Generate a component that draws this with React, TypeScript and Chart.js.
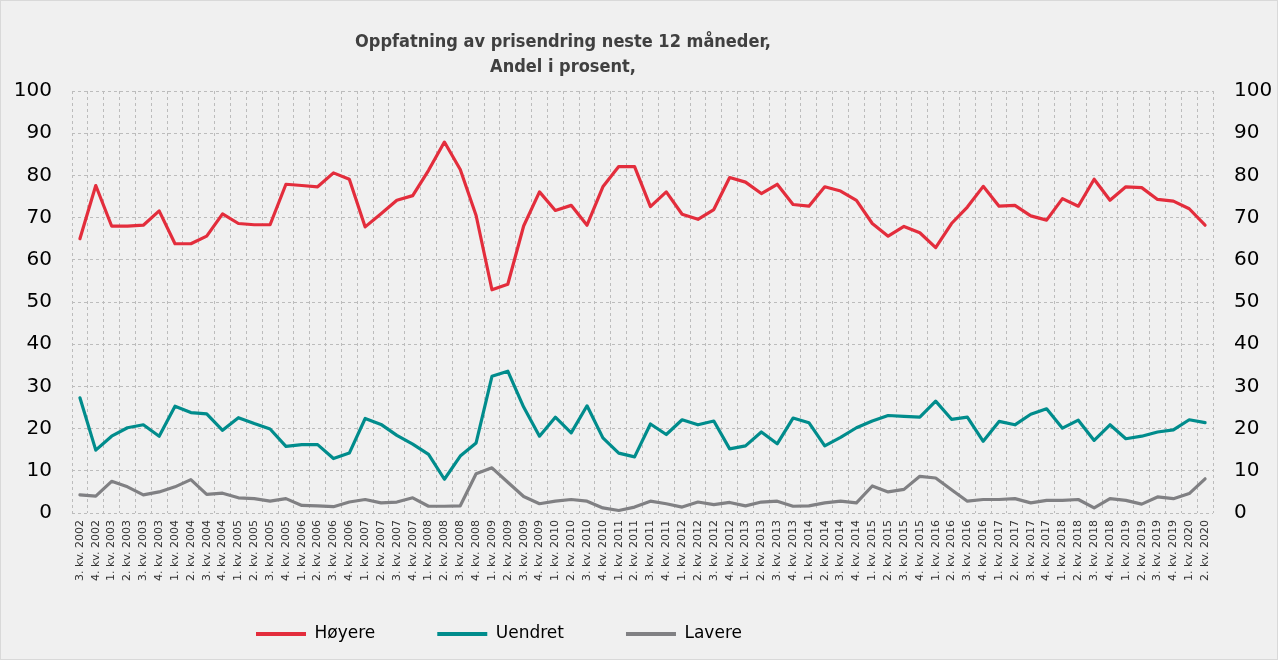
import React, { useEffect, useRef } from "react";
import { Chart, registerables } from "chart.js";

Chart.register(...registerables);

const quarterLabels: string[] = [
  "3. kv. 2002", "4. kv. 2002",
  "1. kv. 2003", "2. kv. 2003", "3. kv. 2003", "4. kv. 2003",
  "1. kv. 2004", "2. kv. 2004", "3. kv. 2004", "4. kv. 2004",
  "1. kv. 2005", "2. kv. 2005", "3. kv. 2005", "4. kv. 2005",
  "1. kv. 2006", "2. kv. 2006", "3. kv. 2006", "4. kv. 2006",
  "1. kv. 2007", "2. kv. 2007", "3. kv. 2007", "4. kv. 2007",
  "1. kv. 2008", "2. kv. 2008", "3. kv. 2008", "4. kv. 2008",
  "1. kv. 2009", "2. kv. 2009", "3. kv. 2009", "4. kv. 2009",
  "1. kv. 2010", "2. kv. 2010", "3. kv. 2010", "4. kv. 2010",
  "1. kv. 2011", "2. kv. 2011", "3. kv. 2011", "4. kv. 2011",
  "1. kv. 2012", "2. kv. 2012", "3. kv. 2012", "4. kv. 2012",
  "1. kv. 2013", "2. kv. 2013", "3. kv. 2013", "4. kv. 2013",
  "1. kv. 2014", "2. kv. 2014", "3. kv. 2014", "4. kv. 2014",
  "1. kv. 2015", "2. kv. 2015", "3. kv. 2015", "4. kv. 2015",
  "1. kv. 2016", "2. kv. 2016", "3. kv. 2016", "4. kv. 2016",
  "1. kv. 2017", "2. kv. 2017", "3. kv. 2017", "4. kv. 2017",
  "1. kv. 2018", "2. kv. 2018", "3. kv. 2018", "4. kv. 2018",
  "1. kv. 2019", "2. kv. 2019", "3. kv. 2019", "4. kv. 2019",
  "1. kv. 2020", "2. kv. 2020",
];

const hoyere: number[] = [
  65.0, 77.6,
  68.0, 68.0, 68.2, 71.6,
  63.8, 63.8, 65.6, 70.9,
  68.6, 68.3, 68.3, 77.9,
  77.6, 77.3, 80.6, 79.1,
  67.8, 70.9, 74.1, 75.2,
  81.2, 87.9, 81.4, 70.5,
  52.9, 54.2, 68.0, 76.1,
  71.7, 72.9, 68.2, 77.3,
  82.1, 82.1, 72.6, 76.1,
  70.8, 69.6, 71.9, 79.5,
  78.4, 75.7, 77.9, 73.1,
  72.7, 77.3, 76.3, 74.1,
  68.6, 65.6, 67.9, 66.4,
  62.9, 68.6, 72.5, 77.4,
  72.7, 72.9, 70.4, 69.4,
  74.5, 72.7, 79.1, 74.1,
  77.3, 77.1, 74.3, 73.9,
  72.1, 68.2,
];

const uendret: number[] = [
  27.3, 14.9,
  18.2, 20.2, 20.9, 18.2,
  25.3, 23.8, 23.5, 19.6,
  22.6, 21.2, 19.9, 15.8,
  16.2, 16.2, 12.9, 14.2,
  22.4, 21.0, 18.4, 16.3,
  13.9, 8.0, 13.5, 16.6,
  32.4, 33.6, 25.1, 18.2,
  22.7, 19.0, 25.4, 17.8,
  14.2, 13.3, 21.1, 18.6,
  22.1, 20.9, 21.8, 15.2,
  15.9, 19.2, 16.4, 22.5,
  21.4, 15.9, 17.9, 20.2,
  21.8, 23.1, 22.9, 22.7,
  26.5, 22.2, 22.7, 17.0,
  21.7, 20.9, 23.4, 24.7,
  20.1, 22.0, 17.2, 20.9,
  17.6, 18.2, 19.2, 19.7,
  22.1, 21.4,
];

const lavere: number[] = [
  4.3, 4.0,
  7.5, 6.2, 4.3, 5.0,
  6.2, 7.9, 4.4, 4.7,
  3.6, 3.4, 2.8, 3.4,
  1.8, 1.7, 1.5, 2.6,
  3.2, 2.4, 2.6, 3.6,
  1.6, 1.6, 1.7, 9.3,
  10.7, 7.3, 3.9, 2.2,
  2.8, 3.2, 2.8, 1.2,
  0.6, 1.4, 2.8, 2.2,
  1.4, 2.6, 2.0, 2.5,
  1.7, 2.6, 2.8, 1.6,
  1.7, 2.4, 2.8, 2.4,
  6.4, 5.0, 5.6, 8.7,
  8.3, 5.5, 2.8, 3.2,
  3.2, 3.4, 2.4, 3.0,
  3.0, 3.2, 1.2, 3.4,
  3.0, 2.1, 3.8, 3.4,
  4.6, 8.1,
];

const seriesNames = ["Høyere", "Uendret", "Lavere"];
const seriesColors = ["#E32D3C", "#008C8C", "#808083"];
const titleLines = ["Oppfatning av prisendring neste 12 måneder,", "Andel i prosent,"];

const W = 1278;
const H = 660;
const LEGEND_PAD = 62;
const LEGEND_FONT = 17;

const shiftPlugin = {
  id: "shiftBlocks",
  afterLayout(chart: any) {
    const lg = chart.legend;
    if (lg) {
      lg.left = 194;
      lg.right = W;
      lg.top = 634 - LEGEND_FONT / 2 - LEGEND_PAD;
      lg.bottom = H;
    }
    if (chart.titleBlock) {
      chart.titleBlock.left = 0;
      chart.titleBlock.right = 2 * 563;
    }
  },
};

export default function App() {
  const canvasRef = useRef<HTMLCanvasElement | null>(null);

  useEffect(() => {
    document.body.style.margin = "0";
    const canvas = canvasRef.current;
    if (!canvas) return;
    const seriesData = [hoyere, uendret, lavere];
    const chart = new Chart(canvas, {
      type: "line",
      data: {
        labels: quarterLabels,
        datasets: seriesNames.map((name, i) => ({
          label: name,
          data: seriesData[i],
          borderColor: seriesColors[i],
          backgroundColor: seriesColors[i],
          borderWidth: 3.2,
          pointRadius: 0,
          pointHoverRadius: 0,
          tension: 0,
          fill: false,
          yAxisID: "y",
          borderJoinStyle: "round" as const,
          borderCapStyle: "round" as const,
        })),
      },
      plugins: [shiftPlugin],
      options: {
        animation: false,
        responsive: false,
        maintainAspectRatio: false,
        layout: { padding: { top: 0, bottom: 27, left: 0, right: 0 } },
        plugins: {
          tooltip: { enabled: false },
          title: {
            display: true,
            text: titleLines,
            color: "#404040",
            font: {
              family: "'DejaVu Sans Condensed', 'Liberation Sans Narrow', 'DejaVu Sans', sans-serif",
              size: 18,
              weight: "bold",
              lineHeight: 25 / 18,
            },
            padding: { top: 30, bottom: 11 },
          },
          legend: {
            display: true,
            position: "bottom",
            align: "start",
            maxHeight: 30,
            labels: {
              boxWidth: 50,
              boxHeight: 4,
              padding: LEGEND_PAD,
              color: "#000000",
              font: { family: "'DejaVu Sans', sans-serif", size: LEGEND_FONT },
              generateLabels(chart: any) {
                const items = Chart.defaults.plugins.legend.labels.generateLabels(chart);
                return items.map((it: any) => ({ ...it, lineWidth: 0, fillStyle: it.strokeStyle }));
              },
            },
          },
        },
        scales: {
          x: {
            type: "category",
            offset: true,
            grid: {
              offset: true,
              color: "#bcbcbc",
              lineWidth: 1,
              drawTicks: false,
            },
            border: { display: false, dash: [3, 3] },
            ticks: {
              autoSkip: false,
              maxRotation: 90,
              minRotation: 90,
              padding: 7,
              color: "#333333",
              font: { family: "'DejaVu Sans', sans-serif", size: 11 },
            },
            afterFit(scale: any) {
              scale.height = 90;
            },
          },
          y: {
            position: "left",
            min: 0,
            max: 100,
            grid: { color: "#bcbcbc", lineWidth: 1, drawTicks: false },
            border: { display: false, dash: [3, 3] },
            ticks: {
              stepSize: 10,
              padding: 20,
              color: "#000000",
              font: { family: "'DejaVu Sans', sans-serif", size: 20 },
            },
            afterFit(scale: any) {
              scale.width = 72;
            },
          },
          y2: {
            position: "right",
            min: 0,
            max: 100,
            grid: { display: false, drawTicks: false },
            border: { display: false },
            ticks: {
              stepSize: 10,
              padding: 21,
              color: "#000000",
              font: { family: "'DejaVu Sans', sans-serif", size: 20 },
            },
            afterFit(scale: any) {
              scale.width = 65;
            },
          },
        },
      },
    } as any);
    return () => {
      chart.destroy();
    };
  }, []);

  return (
    <div style={{ width: 1287, height: 661, background: "#ffffff", position: "relative" }}>
      <div
        style={{
          position: "absolute",
          left: 0,
          top: 0,
          width: W,
          height: H,
          background: "#f0f0f0",
          outline: "1px solid #d9d9d9",
          outlineOffset: -1,
        }}
      >
        <canvas ref={canvasRef} width={W} height={H} style={{ display: "block", width: W, height: H }} />
      </div>
    </div>
  );
}
